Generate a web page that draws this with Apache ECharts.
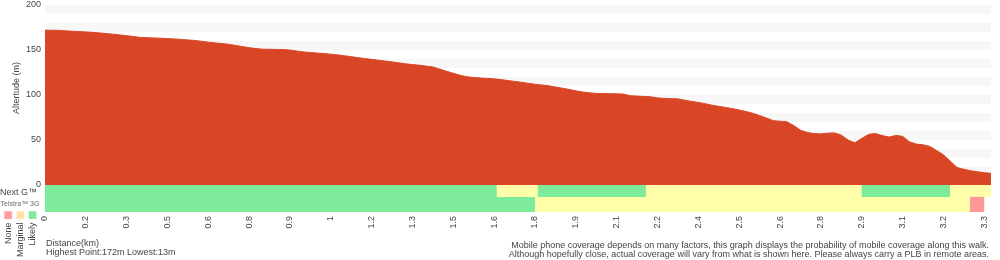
<!DOCTYPE html>
<html><head><meta charset="utf-8">
<script src="https://cdn.jsdelivr.net/npm/echarts@6/dist/echarts.min.js"></script>
<style>html,body{margin:0;padding:0;background:#fff}#c{width:1000px;height:260px}</style>
</head><body><div id="c"></div>
<script>
// Distance tick labels (one every STEP samples)
const tickLabels = ['0','0.2','0.3','0.5','0.6','0.8','0.9','1','1.2','1.3','1.5','1.6','1.8','1.9','2.1','2.2','2.4','2.5','2.6','2.8','2.9','3.1','3.2','3.3'];
const STEP = 6;
// Altitude (m) per sample
const elevation = [172,172,171.8,171.3,170.8,170.5,170.1,169.6,169,168.3,
167.6,166.8,165.9,165,164,163.7,163.4,163.1,162.7,162.3,
161.8,161.2,160.6,159.7,158.7,157.9,157.2,156.3,155.1,153.8,
152.6,151.6,150.9,150.8,150.6,150.5,149.9,148.9,147.9,147.3,
146.6,146,145.4,144.6,143.6,142.6,141.5,140.5,139.6,138.7,
137.7,136.8,135.7,134.6,133.8,133.1,132.1,131.1,128.8,126.4,
124.1,121.9,120.3,119.4,118.9,118.5,118,117.1,116.1,115.1,
114.1,113,111.9,111.1,110.2,108.9,107.6,106.2,104.6,103.3,
102.4,101.8,101.6,101.4,101.3,101,99.2,98.8,98.4,98,
96.8,96.2,95.9,95.7,94.2,92.9,91.8,90.3,88.7,87.4,
86.2,84.9,83.3,81.7,79.7,77.2,74.4,71.5,70.9,70.3,
66.1,60.9,58.4,57.1,56.8,57.6,57.9,55.4,49.9,47,
51.7,56.2,57.2,55,53.2,55,54.1,48.1,45.5,44.7,
42.9,38.4,33.6,26.6,19.5,17.5,15.9,14.7,13.7,13];
// Coverage segments: [startSample, endSample, level] level: 0 None, 1 Marginal, 2 Likely
const nextG = [[0,66.4,2],[66.4,72.4,1],[72.4,88.3,2],[88.3,120.0,1],[120.0,133.0,2],[133.0,139,1]];
const telstra3G = [[0,72.0,2],[72.0,135.9,1],[135.9,138,0]];
const levelNames = ['None','Marginal','Likely'];

const FONT = '"Liberation Sans", Arial, sans-serif';
const TXT = '#444';
const RED = '#d94626';
const covColors = ['#ff9999','#ffffaa','#7deb9a'];
const legColors = ['#ff9c9c','#ffe2a6','#80e99c'];

const categories = elevation.map((_, i) => String(i));
const coverage = nextG.map(s => [s[0], s[1], 1, s[2]]).concat(telstra3G.map(s => [s[0], s[1], 0, s[2]]));

function renderCoverage(params, api) {
  const s = api.value(0), e = api.value(1), row = api.value(2), lvl = api.value(3);
  const top = row === 1 ? 1 : 0.56, bot = row === 1 ? 0.56 : 0;
  const a = api.coord([s, top]), b = api.coord([e, bot]);
  return {type: 'rect', shape: {x: a[0], y: a[1], width: b[0] - a[0], height: b[1] - a[1]}, style: {fill: covColors[lvl]}};
}

const graphic = [
  {type: 'text', x: 17, y: 88, rotation: Math.PI / 2, style: {text: 'Altertude (m)', font: '9px ' + FONT, fill: TXT, align: 'center', verticalAlign: 'middle'}},
  {type: 'text', x: 37, y: 193, style: {text: 'Next G™', font: '9px ' + FONT, fill: TXT, align: 'right', verticalAlign: 'middle'}},
  {type: 'text', x: 20, y: 204.5, style: {text: 'Telstra™ 3G', font: '7px ' + FONT, fill: '#666', align: 'center', verticalAlign: 'middle'}},
  {type: 'text', x: 46, y: 243.5, style: {text: 'Distance(km)', font: '9px ' + FONT, fill: TXT, align: 'left', verticalAlign: 'middle'}},
  {type: 'text', x: 46, y: 253, style: {text: 'Highest Point:172m Lowest:13m', font: '9px ' + FONT, fill: TXT, align: 'left', verticalAlign: 'middle'}},
  {type: 'text', x: 989, y: 245.3, style: {text: 'Mobile phone coverage depends on many factors, this graph displays the probability of mobile coverage along this walk.', font: '9px ' + FONT, fill: TXT, align: 'right', verticalAlign: 'middle'}},
  {type: 'text', x: 989, y: 254.3, style: {text: 'Although hopefully close, actual coverage will vary from what is shown here. Please always carry a PLB in remote areas.', font: '9px ' + FONT, fill: TXT, align: 'right', verticalAlign: 'middle'}}
];
levelNames.forEach((name, i) => {
  const x0 = 4 + i * 12.2;
  graphic.push({type: 'rect', shape: {x: x0, y: 211, width: 8.3, height: 8.3}, style: {fill: legColors[i], stroke: 'rgba(255,255,255,0.6)', lineWidth: 1}});
  graphic.push({type: 'text', x: x0 + 4.3, y: 222.5, rotation: Math.PI / 2, style: {text: name, font: '9px ' + FONT, fill: TXT, align: 'right', verticalAlign: 'middle'}});
});

const chart = echarts.init(document.getElementById('c'));
chart.setOption({
  animation: false,
  grid: [
    {left: 45, right: 9, top: 5, height: 180},
    {left: 45, right: 9, top: 185, height: 27}
  ],
  xAxis: [
    {type: 'category', gridIndex: 0, data: categories, boundaryGap: false,
     axisLine: {show: false}, axisTick: {show: false}, splitLine: {show: false},
     axisLabel: {interval: STEP - 1, rotate: 90, margin: 31, color: TXT, fontSize: 9, fontFamily: FONT,
       formatter: (v) => { const k = Number(v) / STEP; return Number.isInteger(k) && tickLabels[k] !== undefined ? tickLabels[k] : ''; }}},
    {type: 'value', gridIndex: 1, min: 0, max: elevation.length - 1, show: false}
  ],
  yAxis: [
    {type: 'value', gridIndex: 0, min: 0, max: 200, interval: 50,
     axisLine: {show: false}, axisTick: {show: false}, splitLine: {show: false},
     axisLabel: {margin: 4, color: TXT, fontSize: 9, fontFamily: FONT}},
    {type: 'value', gridIndex: 0, min: 0, max: 200, interval: 10, position: 'left',
     axisLine: {show: false}, axisTick: {show: false}, axisLabel: {show: false}, splitLine: {show: false},
     splitArea: {show: true, areaStyle: {color: ['rgba(255,255,255,0)', '#f7f7f7']}}},
    {type: 'value', gridIndex: 1, min: 0, max: 1, show: false}
  ],
  series: [
    {type: 'line', xAxisIndex: 0, yAxisIndex: 0, data: elevation, symbol: 'none', z: 3,
     lineStyle: {width: 1, color: RED}, areaStyle: {color: RED, opacity: 1}},
    {type: 'custom', xAxisIndex: 1, yAxisIndex: 2, data: coverage, renderItem: renderCoverage, z: 4}
  ],
  graphic: graphic
});
</script></body></html>
